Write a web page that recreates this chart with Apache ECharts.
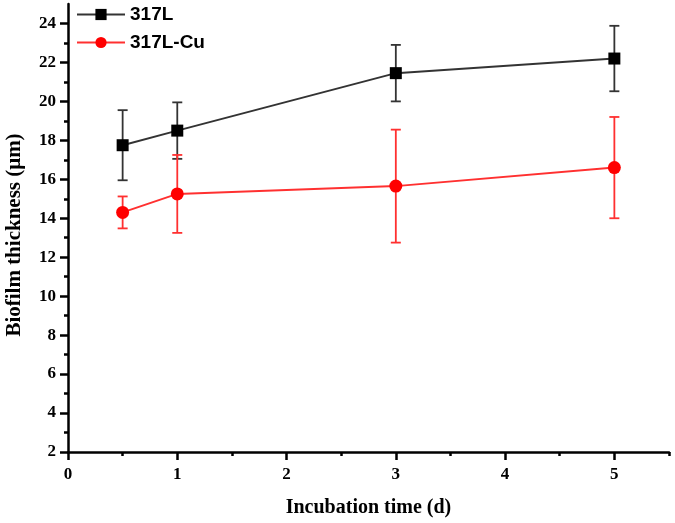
<!DOCTYPE html>
<html><head><meta charset="utf-8">
<script src="https://cdn.jsdelivr.net/npm/echarts@6/dist/echarts.min.js"></script>
<style>html,body{margin:0;padding:0;background:#fff}#c{width:675px;height:523px}</style>
</head><body><div id="c"></div>
<script>
const days = [0.5, 1, 3, 5];
const thick317L = [17.75, 18.5, 21.45, 22.2];
const err317L = [1.8, 1.45, 1.45, 1.68];
const thickCu = [14.3, 15.25, 15.65, 16.6];
const errCu = [0.82, 2.0, 2.9, 2.6];
const xLabels = [0, 1, 2, 3, 4, 5];
const xMinor = [0.5, 1.5, 2.5, 3.5, 4.5, 5.5];
const yLabels = [2, 4, 6, 8, 10, 12, 14, 16, 18, 20, 22, 24];
const yMinor = [3, 5, 7, 9, 11, 13, 15, 17, 19, 21, 23];

const serif = '"Liberation Serif","Times New Roman",serif';
const chart = echarts.init(document.getElementById('c'));

function errSeries(vals, errs, color) {
  return {
    type: 'custom', xAxisIndex: 0, yAxisIndex: 0, z: 1,
    data: days.map((d, i) => [d, vals[i] - errs[i], vals[i] + errs[i]]),
    renderItem: function (params, api) {
      const lo = api.coord([api.value(0), api.value(1)]);
      const hi = api.coord([api.value(0), api.value(2)]);
      const w = 5;
      const st = { stroke: color, lineWidth: 1.8 };
      return { type: 'group', children: [
        { type: 'line', shape: { x1: lo[0], y1: lo[1], x2: hi[0], y2: hi[1] }, style: st },
        { type: 'line', shape: { x1: lo[0] - w, y1: lo[1], x2: lo[0] + w, y2: lo[1] }, style: st },
        { type: 'line', shape: { x1: hi[0] - w, y1: hi[1], x2: hi[0] + w, y2: hi[1] }, style: st }
      ]};
    }
  };
}

chart.setOption({
  animation: false,
  backgroundColor: '#fff',
  grid: { left: 68, right: 6, top: 4, bottom: 71, containLabel: false, outerBoundsMode: 'none' },
  legend: {
    left: 76, top: 5, padding: 0, orient: 'vertical', itemWidth: 48, itemHeight: 14, itemGap: 9,
    textStyle: { fontFamily: '"Liberation Sans",Arial,sans-serif', fontWeight: 'bold', fontSize: 19, color: '#000' },
    data: ['317L', '317L-Cu']
  },
  xAxis: [{
    type: 'value', min: 0, max: 5.5, interval: 0.5,
    name: 'Incubation time (d)', nameLocation: 'middle', nameGap: 46,
    nameTextStyle: { fontFamily: serif, fontWeight: 'bold', fontSize: 20, color: '#000' },
    axisLine: { show: true, onZero: false, lineStyle: { color: '#000', width: 2.5 } },
    axisTick: { show: true, customValues: xLabels, length: 8, lineStyle: { color: '#000', width: 2.5 } },
    axisLabel: { customValues: xLabels, margin: 14, fontFamily: serif, fontWeight: 'bold', fontSize: 17, color: '#000' },
    splitLine: { show: false }
  }, {
    type: 'value', min: 0, max: 5.5, position: 'bottom',
    axisLine: { show: false },
    axisTick: { show: true, customValues: xMinor, length: 4, lineStyle: { color: '#000', width: 2.5 } },
    axisLabel: { show: false }, splitLine: { show: false }
  }],
  yAxis: [{
    type: 'value', min: 2, max: 25, interval: 1,
    name: 'Biofilm thickness (μm)', nameLocation: 'middle', nameGap: 43,
    nameTextStyle: { fontFamily: serif, fontWeight: 'bold', fontSize: 21, color: '#000', padding: [0, 14, 0, 0] },
    axisLine: { show: true, onZero: false, lineStyle: { color: '#000', width: 2.5 } },
    axisTick: { show: true, customValues: yLabels, length: 8, lineStyle: { color: '#000', width: 2.5 } },
    axisLabel: { customValues: yLabels, margin: 12, fontFamily: serif, fontWeight: 'bold', fontSize: 17, color: '#000' },
    splitLine: { show: false }
  }, {
    type: 'value', min: 2, max: 25, position: 'left',
    axisLine: { show: false },
    axisTick: { show: true, customValues: yMinor, length: 4, lineStyle: { color: '#000', width: 2.5 } },
    axisLabel: { show: false }, splitLine: { show: false }
  }],
  series: [
    errSeries(thick317L, err317L, '#333'),
    errSeries(thickCu, errCu, '#ff3030'),
    {
      name: '317L', type: 'line', z: 3,
      data: days.map((d, i) => [d, thick317L[i]]),
      symbol: 'rect', symbolSize: 12,
      lineStyle: { color: '#333', width: 2 },
      itemStyle: { color: '#000' }
    },
    {
      name: '317L-Cu', type: 'line', z: 3,
      data: days.map((d, i) => [d, thickCu[i]]),
      symbol: 'circle', symbolSize: 13,
      lineStyle: { color: '#ff3030', width: 2 },
      itemStyle: { color: '#ff0000' }
    }
  ]
});
</script></body></html>
